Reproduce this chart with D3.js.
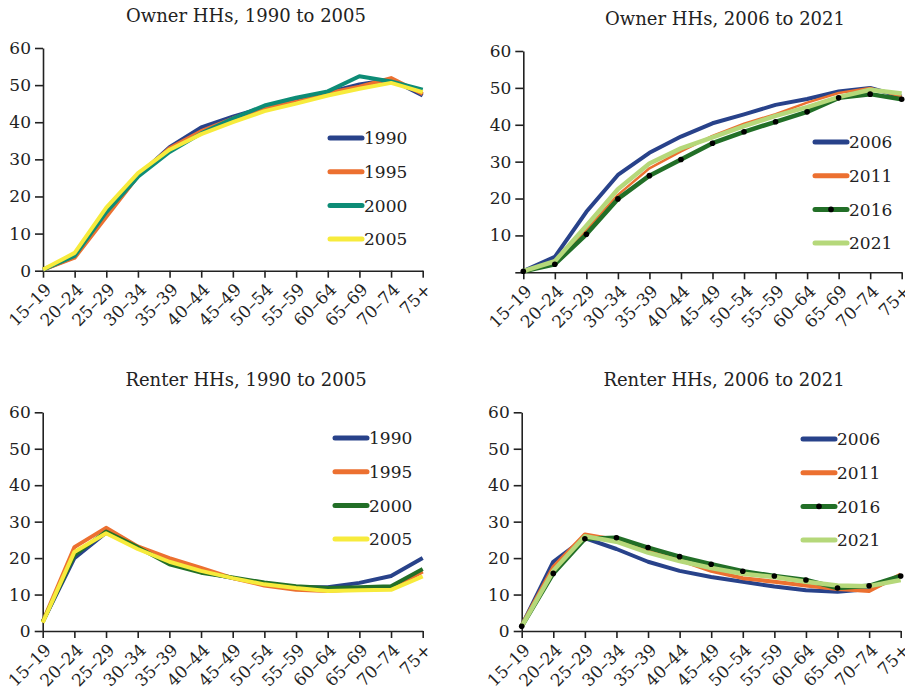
<!DOCTYPE html>
<html>
<head>
<meta charset="utf-8">
<script src="https://cdn.jsdelivr.net/npm/d3@7"></script>
<style>
  body { margin: 0; background: #fff; }
  svg { display: block; font-family: "DejaVu Serif", serif; }
</style>
</head>
<body>
<div id="chart"></div>
<script>
// age groups on the x axis
const ageGroups = ["15–19","20–24","25–29","30–34","35–39","40–44","45–49","50–54","55–59","60–64","65–69","70–74","75+"];
const yTicks = [0, 10, 20, 30, 40, 50, 60];

// Owner HHs, 1990 to 2005
const ownerYearsA = ["1990", "1995", "2000", "2005"];
const owner1990 = [0.3, 3.8, 15.0, 25.5, 33.3, 38.6, 41.5, 44.0, 45.6, 48.0, 50.2, 51.5, 47.2];
const owner1995 = [0.3, 3.5, 14.5, 25.5, 33.0, 37.6, 41.0, 43.8, 45.5, 47.8, 49.6, 51.9, 47.6];
const owner2000 = [0.3, 4.0, 15.8, 25.3, 32.0, 37.0, 41.0, 44.5, 46.6, 48.3, 52.4, 51.0, 48.8];
const owner2005 = [0.3, 4.8, 17.0, 26.3, 32.6, 36.8, 40.0, 43.0, 45.0, 47.2, 49.0, 50.6, 48.1];

// Owner HHs, 2006 to 2021
const ownerYearsB = ["2006", "2011", "2016", "2021"];
const owner2006 = [0.3, 4.2, 16.4, 26.4, 32.4, 36.8, 40.4, 42.8, 45.4, 47.0, 49.0, 50.0, 47.6];
const owner2011 = [0.3, 3.0, 11.5, 21.0, 28.2, 32.8, 37.0, 40.3, 42.9, 46.0, 48.6, 50.0, 47.6];
const owner2016 = [0.3, 2.2, 10.3, 19.9, 26.2, 30.6, 35.0, 38.1, 40.8, 43.5, 47.3, 48.3, 46.9];
const owner2021 = [0.3, 3.0, 12.6, 22.5, 29.5, 33.6, 36.6, 39.6, 42.4, 44.8, 47.5, 49.5, 48.5];

// Renter HHs, 1990 to 2005
const renterYearsA = ["1990", "1995", "2000", "2005"];
const renter1990 = [2.5, 20.0, 27.0, 23.0, 19.0, 16.3, 14.5, 13.0, 12.0, 12.0, 13.2, 15.1, 20.0];
const renter1995 = [2.5, 23.0, 28.3, 23.2, 20.0, 17.3, 14.5, 12.5, 11.3, 11.0, 11.5, 11.5, 16.3];
const renter2000 = [2.5, 20.8, 27.3, 23.0, 18.3, 16.0, 14.7, 13.3, 12.3, 11.8, 12.0, 12.3, 17.0];
const renter2005 = [2.3, 21.7, 26.8, 22.5, 19.0, 16.5, 14.5, 12.8, 11.8, 11.0, 11.2, 11.3, 15.0];

// Renter HHs, 2006 to 2021
const renterYearsB = ["2006", "2011", "2016", "2021"];
const renter2006 = [1.5, 19.0, 25.5, 22.5, 19.0, 16.5, 14.8, 13.5, 12.2, 11.2, 10.8, 11.5, 15.0];
const renter2011 = [1.5, 17.5, 26.5, 25.0, 22.0, 19.5, 16.5, 14.5, 13.5, 12.5, 11.5, 11.0, 15.5];
const renter2016 = [1.3, 15.8, 25.3, 25.6, 22.9, 20.4, 18.3, 16.4, 15.1, 14.0, 11.8, 12.4, 15.1];
const renter2021 = [1.3, 16.5, 26.0, 24.5, 21.5, 19.2, 17.3, 15.7, 14.8, 13.5, 12.5, 12.3, 14.0];

const svg = d3.select("#chart").append("svg")
  .attr("width", 905)
  .attr("height", 694);

// one panel = title, two axes, four lines, legend
function drawPanel(p) {
  const g = svg.append("g");
  const x = d3.scalePoint().domain(ageGroups).range([p.x0, p.x1]);
  const y = d3.scaleLinear().domain([0, 60]).range([p.yBot, p.yTop]);

  g.append("text")
    .attr("x", p.titleX).attr("y", p.titleY)
    .attr("text-anchor", "middle")
    .attr("font-size", "18px")
    .attr("fill", "#222")
    .text(p.title);

  const yAxis = g.append("g")
    .attr("transform", `translate(${p.x0},0)`)
    .call(d3.axisLeft(y).tickValues(yTicks).tickSize(8).tickSizeOuter(0).tickPadding(4)
      .tickFormat(d => (d === 0 && p.hideZero) ? "" : d));
  const xAxis = g.append("g")
    .attr("transform", `translate(0,${p.yBot})`)
    .call(d3.axisBottom(x).tickSize(7).tickSizeOuter(0));

  [yAxis, xAxis].forEach(a => {
    a.selectAll("path, line").attr("stroke", "#222").attr("stroke-width", 1.6);
    a.selectAll("text").attr("font-family", "DejaVu Serif, serif").attr("font-size", "17px").attr("fill", "#222");
  });
  // rotated age labels
  xAxis.selectAll("text")
    .attr("text-anchor", "end")
    .attr("dy", null)
    .attr("y", null)
    .attr("transform", "translate(9,20) rotate(-45)");

  const line = d3.line()
    .x((d, i) => x(ageGroups[i]))
    .y(d => y(d));

  p.series.forEach((s, k) => {
    g.append("path")
      .datum(s)
      .attr("fill", "none")
      .attr("stroke", p.colors[k])
      .attr("stroke-width", p.widths[k])
      .attr("stroke-linejoin", "round")
      .attr("d", line);
  });
  if (p.dotted !== undefined) {
    g.selectAll(".dot")
      .data(p.series[p.dotted])
      .join("circle")
        .attr("cx", (d, i) => x(ageGroups[i]))
        .attr("cy", d => y(d))
        .attr("r", 2.8)
        .attr("fill", "#000");
  }

  // legend
  p.names.forEach((n, k) => {
    const ly = p.legY + k * 33.7;
    g.append("line")
      .attr("x1", p.legX).attr("x2", p.legX + 32)
      .attr("y1", ly).attr("y2", ly)
      .attr("stroke", p.colors[k])
      .attr("stroke-width", 5)
      .attr("stroke-linecap", "round");
    if (p.dotted === k) {
      g.append("circle").attr("cx", p.legX + 16).attr("cy", ly).attr("r", 2.8).attr("fill", "#000");
    }
    g.append("text")
      .attr("x", p.legX + 34).attr("y", ly)
      .attr("dy", "0.36em")
      .attr("font-size", "17px")
      .attr("fill", "#222")
      .text(n);
  });
}

drawPanel({
  title: "Owner HHs, 1990 to 2005", titleX: 246, titleY: 21.5,
  x0: 43, x1: 422.7, yTop: 48, yBot: 270.7,
  names: ownerYearsA, series: [owner1990, owner1995, owner2000, owner2005],
  colors: ["#28428a", "#ec7030", "#0d8c76", "#f7eb3c"], widths: [4, 4, 4, 4],
  legX: 330, legY: 138
});
drawPanel({
  title: "Owner HHs, 2006 to 2021", titleX: 725, titleY: 24.5,
  x0: 523.3, x1: 901.7, yTop: 51, yBot: 272.3, hideZero: true,
  names: ownerYearsB, series: [owner2006, owner2011, owner2016, owner2021],
  colors: ["#28428a", "#ec7030", "#226f27", "#b5d87a"], widths: [4, 2.5, 4.5, 4.5],
  dotted: 2, legX: 815, legY: 142
});
drawPanel({
  title: "Renter HHs, 1990 to 2005", titleX: 246, titleY: 385.5,
  x0: 42.7, x1: 422.7, yTop: 412.3, yBot: 631,
  names: renterYearsA, series: [renter1990, renter1995, renter2000, renter2005],
  colors: ["#28428a", "#ec7030", "#226f27", "#f7eb3c"], widths: [4, 4, 4, 4],
  legX: 335, legY: 438
});
drawPanel({
  title: "Renter HHs, 2006 to 2021", titleX: 724, titleY: 385.5,
  x0: 521.7, x1: 900.7, yTop: 412.3, yBot: 631,
  names: renterYearsB, series: [renter2006, renter2011, renter2016, renter2021],
  colors: ["#28428a", "#ec7030", "#226f27", "#b5d87a"], widths: [4, 4, 4.5, 4.5],
  dotted: 2, legX: 803, legY: 439
});
</script>
</body>
</html>
